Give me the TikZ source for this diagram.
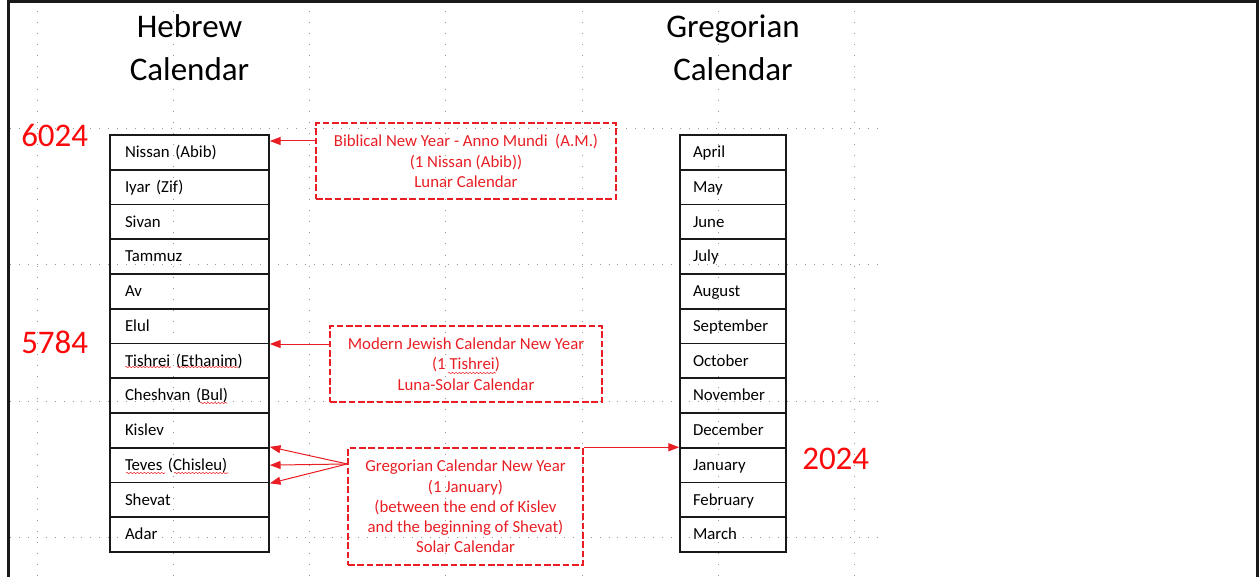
\documentclass[tikz,border=0pt]{standalone}
\usepackage{fontspec}
\setmainfont{Carlito}
\usetikzlibrary{arrows.meta,decorations.pathmorphing}

\definecolor{notered}{RGB}{232,30,36}
\definecolor{yearred}{RGB}{250,10,10}
\definecolor{griddot}{RGB}{150,150,150}

\tikzset{
  gridh/.style={draw=griddot, line width=0.7pt, dash pattern=on 0.7pt off 6pt},
  gridv/.style={draw=griddot, line width=0.7pt, dash pattern=on 0.7pt off 7.6pt},
  frame/.style={draw=black!90, line width=2.25pt},
  monthbox/.style={draw=black!90, line width=1.3pt, inner ysep=0pt, align=left,
    minimum height=26.06pt, text height=10pt, text depth=2pt,
    font=\fontsize{12.6}{15}\selectfont},
  hmonth/.style={monthbox, minimum width=119.25pt, text width=96.75pt, inner xsep=11.25pt},
  gmonth/.style={monthbox, minimum width=79.5pt, text width=60pt, inner xsep=9.75pt},
  title/.style={align=center, font=\fontsize{24.75}{32.25}\selectfont, anchor=base},
  year/.style={text=yearred, font=\fontsize{24.75}{30}\selectfont, anchor=base west, inner sep=0pt},
  notebox/.style={draw=notered, text=notered, line width=1.1pt, dash pattern=on 5pt off 2pt,
    align=center, inner sep=0pt, font=\fontsize{12.6}{15.2}\selectfont},
  notearrow/.style={draw=notered, line width=0.75pt, -{Triangle[length=8pt,width=6pt]}},
  spell/.style={draw=notered, line width=0.4pt, decorate,
    decoration={snake, amplitude=0.45pt, segment length=2.6pt}}
}

\begin{document}
\begin{tikzpicture}[x=0.75pt, y=-0.75pt]
\useasboundingbox (0,0) rectangle (1259,577);

% dotted layout grid
\foreach \k in {0,...,6}
  \draw[gridv] ({37+136.3*\k},0) -- ({37+136.3*\k},577);
\foreach \yy in {128,264.5,401,537.5}
  \draw[gridh] (10,\yy) -- (885,\yy);

% page frame
\draw[frame] (8.5,590) -- (8.5,1.5) -- (1257.5,1.5) -- (1257.5,590);

% column titles (base anchor sits on the last line)
\node[title] (htitle) at (189.5,81) {Hebrew\\Calendar};
\node[title] (gtitle) at (733,81) {Gregorian\\Calendar};

% Hebrew months
\foreach \nm/\txt [count=\i from 0] in {
    nissan/{Nissan (Abib)}, iyar/{Iyar (Zif)}, sivan/Sivan, tammuz/Tammuz,
    av/Av, elul/Elul, tishrei/{Tishrei (Ethanim)}, cheshvan/{Cheshvan (Bul)},
    kislev/Kislev, teves/{Teves (Chisleu)}, shevat/Shevat, adar/Adar}
  \node[hmonth] (\nm) at (189.5,{135+34.75*(\i+0.5)}) {\txt};

% Gregorian months
\foreach \nm/\txt [count=\i from 0] in {
    april/April, may/May, june/June, july/July, august/August,
    september/September, october/October, november/November,
    december/December, january/January, february/February, march/March}
  \node[gmonth] (\nm) at (733,{135+34.75*(\i+0.5)}) {\txt};

% year numbers
\node[year] (y6024) at (21,147) {6024};
\node[year] (y5784) at (21,353) {5784};
\node[year] (y2024) at (802,469) {2024};

% new-year notes
\node[notebox, minimum width=225pt, minimum height=57pt] (biblical) at (466,161)
  {Biblical New Year - Anno Mundi~ (A.M.)\\(1 Nissan (Abib))\\Lunar Calendar};
\node[notebox, minimum width=204pt, minimum height=57pt] (modern) at (466,364)
  {Modern Jewish Calendar New Year\\(1 Tishrei)\\Luna-Solar Calendar};
\node[notebox, minimum width=176.25pt, minimum height=87.75pt] (gregny) at (465.5,506.5)
  {Gregorian Calendar New Year\\(1 January)\\(between the end of Kislev\\and the beginning of Shevat)\\Solar Calendar};

% connectors
\draw[notearrow] ([yshift=15pt]biblical.west) coordinate (s1) -- (s1 -| nissan.east);
\draw[notearrow] ([yshift=15pt]modern.west) coordinate (s2) -- (s2 -| elul.east);
\coordinate (s3) at ([yshift=31.9pt]gregny.west);
\draw[notearrow] (s3) -- (teves.north east);
\draw[notearrow] (s3) -- (teves.east);
\draw[notearrow] (s3) -- (teves.south east);
\draw[notearrow] (gregny.north east) -- (gregny.north east -| january.west);

% spelling marks under unfamiliar words
\draw[spell] (125,367) -- (171,367);
\draw[spell] (177,367) -- (238,367);
\draw[spell] (200,403) -- (227,403);
\draw[spell] (126,473) -- (165,473);
\draw[spell] (174,473) -- (228,473);
\draw[spell] (448,373) -- (496,373);
\end{tikzpicture}
\end{document}
